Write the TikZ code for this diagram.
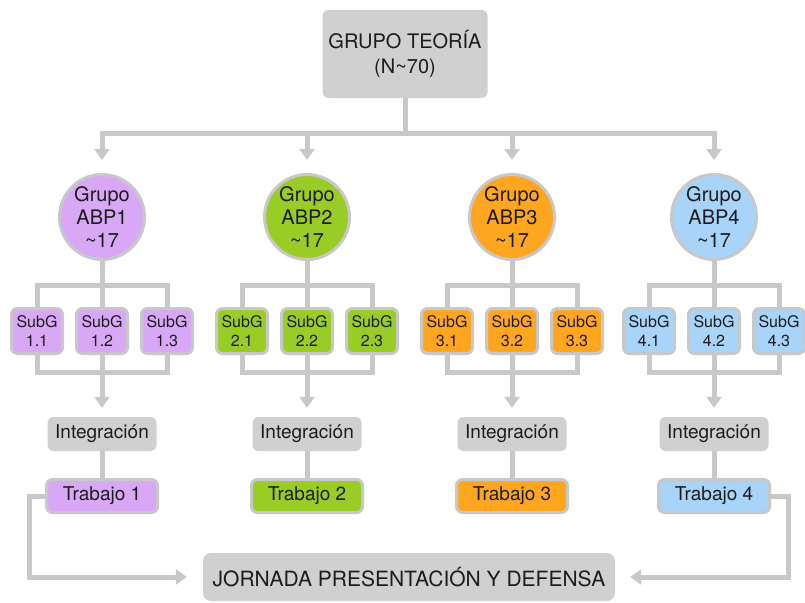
\documentclass[tikz,border=0pt]{standalone}
\usepackage{fontspec}
\setmainfont{TeX Gyre Heros}
\usepackage{xcolor}
\usetikzlibrary{positioning, calc, arrows.meta}

\definecolor{lila}{RGB}{216,168,246}
\definecolor{verde}{RGB}{154,204,38}
\definecolor{naranja}{RGB}{255,166,32}
\definecolor{celeste}{RGB}{168,212,250}
\definecolor{grisfondo}{RGB}{208,208,208}
\definecolor{grislinea}{RGB}{200,200,200}
\definecolor{texto}{RGB}{28,28,28}

\tikzset{
  caja/.style={rectangle, rounded corners=6pt, fill=grisfondo, text=texto, align=center, inner sep=0pt},
  grupo/.style={circle, draw=grislinea, line width=3pt, minimum size=85pt, inner sep=0pt, align=center, text=texto, font=\fontsize{20}{23}\selectfont},
  subg/.style={rectangle, rounded corners=6pt, draw=grislinea, line width=3pt, minimum width=51pt, minimum height=45pt, inner sep=0pt, align=center, text=texto, font=\fontsize{16}{19}\selectfont},
  integ/.style={caja, minimum width=109pt, minimum height=34pt, font=\fontsize{19}{22}\selectfont},
  trabajo/.style={rectangle, rounded corners=6pt, draw=grislinea, line width=3pt, minimum width=111pt, minimum height=33pt, inner sep=0pt, text=texto, font=\fontsize{19}{22}\selectfont},
  conn/.style={draw=grislinea, line width=5pt},
  flecha/.style={conn, -{Triangle[width=15pt,length=11pt]}}
}

\begin{document}
\begin{tikzpicture}[x=1pt, y=-1pt]
      \useasboundingbox (0,0) rectangle (805,602);
      % top and bottom boxes
      \node[caja, minimum width=165pt, minimum height=88pt, font=\fontsize{20}{25}\selectfont] (teoria) at (405,54) {GRUPO TEORÍA\\(N\textasciitilde 70)};
      \node[caja, rounded corners=8pt, minimum width=412pt, minimum height=48pt, font=\fontsize{21}{24}\selectfont] (jornada) at (409,577) {JORNADA PRESENTACIÓN Y DEFENSA};
      \coordinate (barra) at (405,133);
      % groups
      \node[grupo, fill=lila] (g1) at (102,217) {Grupo\\ABP1\\\textasciitilde 17};
      \node[grupo, fill=verde] (g2) at (307,217) {Grupo\\ABP2\\\textasciitilde 17};
      \node[grupo, fill=naranja] (g3) at (512,217) {Grupo\\ABP3\\\textasciitilde 17};
      \node[grupo, fill=celeste] (g4) at (714,217) {Grupo\\ABP4\\\textasciitilde 17};
      % subgroups
      \node[subg, fill=lila] (s11) at (37,331) {SubG\\1.1};
      \node[subg, fill=lila] (s12) at (102,331) {SubG\\1.2};
      \node[subg, fill=lila] (s13) at (167,331) {SubG\\1.3};
      \node[subg, fill=verde] (s21) at (242,331) {SubG\\2.1};
      \node[subg, fill=verde] (s22) at (307,331) {SubG\\2.2};
      \node[subg, fill=verde] (s23) at (372,331) {SubG\\2.3};
      \node[subg, fill=naranja] (s31) at (447,331) {SubG\\3.1};
      \node[subg, fill=naranja] (s32) at (512,331) {SubG\\3.2};
      \node[subg, fill=naranja] (s33) at (577,331) {SubG\\3.3};
      \node[subg, fill=celeste] (s41) at (649,331) {SubG\\4.1};
      \node[subg, fill=celeste] (s42) at (714,331) {SubG\\4.2};
      \node[subg, fill=celeste] (s43) at (779,331) {SubG\\4.3};
      % integration and work
      \node[integ] (i1) at (102,434) {Integración};
      \node[integ] (i2) at (307,434) {Integración};
      \node[integ] (i3) at (512,434) {Integración};
      \node[integ] (i4) at (714,434) {Integración};
      \node[trabajo, fill=lila] (t1) at (102,496) {Trabajo 1};
      \node[trabajo, fill=verde] (t2) at (307,496) {Trabajo 2};
      \node[trabajo, fill=naranja] (t3) at (512,496) {Trabajo 3};
      \node[trabajo, fill=celeste] (t4) at (714,496) {Trabajo 4};
      % connectors
      \draw[flecha, shorten >=13pt] (teoria) -- (barra) -| (g1);
      \draw[flecha, shorten >=13pt] (teoria) -- (barra) -| (g2);
      \draw[flecha, shorten >=13pt] (teoria) -- (barra) -| (g3);
      \draw[flecha, shorten >=13pt] (teoria) -- (barra) -| (g4);
      \draw[conn] (g1) -- (s12);
      \draw[conn] (g2) -- (s22);
      \draw[conn] (g3) -- (s32);
      \draw[conn] (g4) -- (s42);
      \draw[conn] (s11.north) -- ++(0,-22) -| (s13.north);
      \draw[conn] (s21.north) -- ++(0,-22) -| (s23.north);
      \draw[conn] (s31.north) -- ++(0,-22) -| (s33.north);
      \draw[conn] (s41.north) -- ++(0,-22) -| (s43.north);
      \draw[conn] (s11.south) -- ++(0,17) -| (s13.south);
      \draw[conn] (s21.south) -- ++(0,17) -| (s23.south);
      \draw[conn] (s31.south) -- ++(0,17) -| (s33.south);
      \draw[conn] (s41.south) -- ++(0,17) -| (s43.south);
      \draw[flecha, shorten >=9pt] (s12) -- (i1);
      \draw[flecha, shorten >=9pt] (s22) -- (i2);
      \draw[flecha, shorten >=9pt] (s32) -- (i3);
      \draw[flecha, shorten >=9pt] (s42) -- (i4);
      \draw[conn] (i1) -- (t1);
      \draw[conn] (i2) -- (t2);
      \draw[conn] (i3) -- (t3);
      \draw[conn] (i4) -- (t4);
      \draw[flecha, shorten >=16pt] (t1.west) -- ++(-16,0) |- (jornada);
      \draw[flecha, shorten >=15pt] (t4.east) -- ++(17,0) |- (jornada);
    \end{tikzpicture}
\end{document}
